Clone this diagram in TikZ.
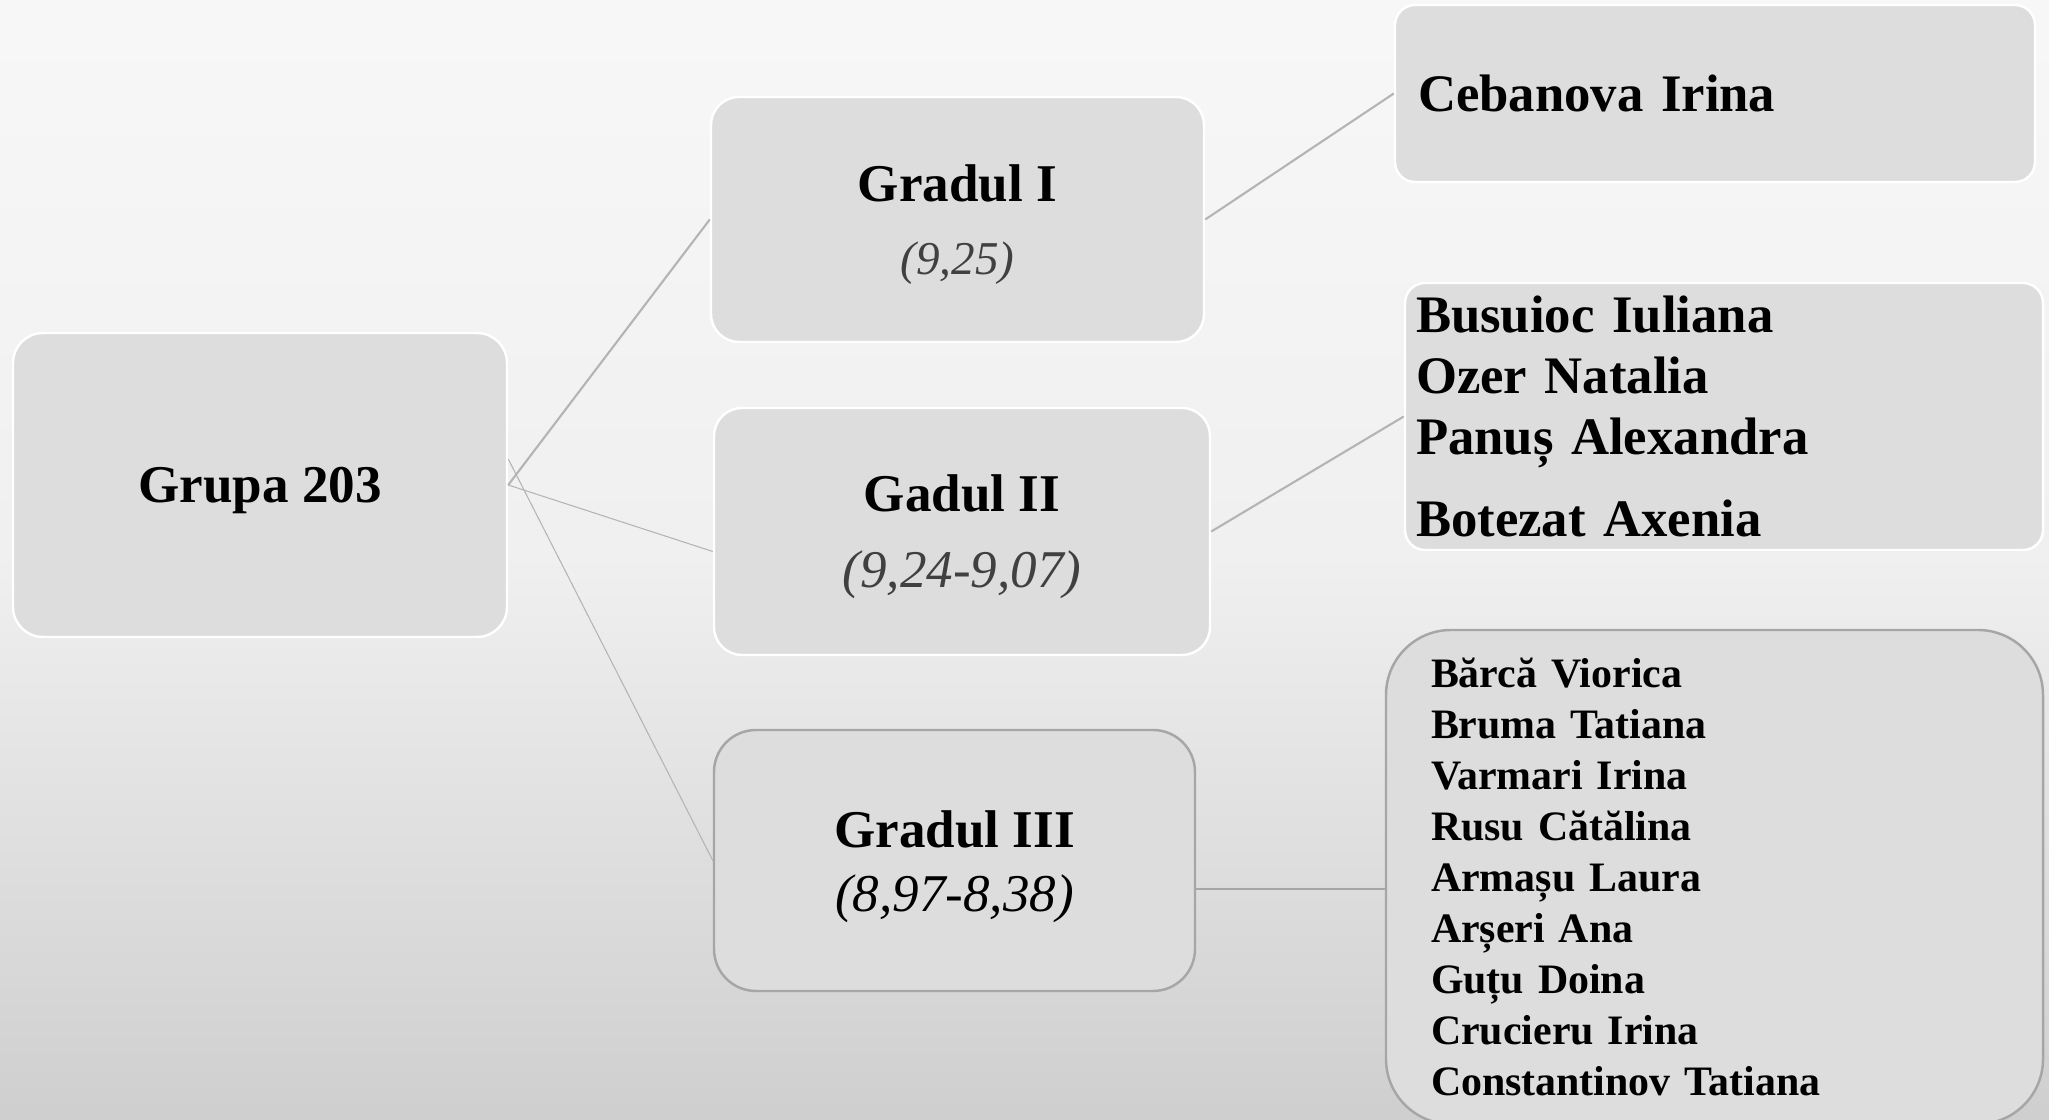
\documentclass[tikz,border=0pt]{standalone}
\usepackage{fontspec}
\setmainfont{Liberation Serif}
\definecolor{boxfill}{HTML}{DDDDDD}
\definecolor{linkgray}{HTML}{B4B4B4}
\definecolor{rimgray}{HTML}{A6A6A6}
\definecolor{notegray}{HTML}{404040}

\begin{document}
\begin{tikzpicture}[
        box/.style={draw=white, line width=0.7pt, fill=boxfill, rounded corners=0.28cm, inner sep=0pt, align=center},
        big/.style={font=\fontsize{15.1}{18.2}\selectfont\bfseries},
        list/.style={box, align=left, rounded corners=0.2cm, font=\fontsize{15}{17.36}\selectfont\bfseries},
        link/.style={draw=linkgray, line width=0.3pt},
        boldlink/.style={draw=linkgray, line width=0.6pt}
    ]
        \useasboundingbox (0, 0) rectangle (20.49, 11.2);
        \shade[top color=white!97!black, bottom color=white!81!black, middle color=white!94!black] (0, 0) rectangle (20.49, 11.2);
        % group and grades
        \node[box, big, text depth=0pt, rounded corners=0.3cm, minimum width=4.94cm, minimum height=3.04cm] (grupa) at (2.60, 6.35) {Grupa 203};
        \node[box, big, minimum width=4.93cm, minimum height=2.45cm] (gradI) at (9.575, 9.005) {\rule{0pt}{13.2pt}Gradul I\\[2.6pt] {\fontsize{13.4}{16}\selectfont\mdseries\itshape\color{notegray}(9,25)}};
        \node[box, big, minimum width=4.96cm, minimum height=2.47cm] (gradII) at (9.62, 5.885) {\rule{0pt}{13.6pt}Gadul II\\[3.4pt] {\mdseries\itshape\color{notegray}(9,24-9,07)}};
        \node[box, big, draw=rimgray, rounded corners=0.42cm, minimum width=4.81cm, minimum height=2.61cm] (gradIII) at (9.545, 2.595) {\rule{0pt}{14pt}Gradul III\\ {\mdseries\itshape(8,97-8,38)}};
        % students
        \node[list, minimum width=6.40cm, minimum height=1.77cm, text width=5.94cm] (ceban) at (17.15, 10.265) {Cebanova Irina};
        \node[list, minimum width=6.38cm, minimum height=2.67cm, text width=6.16cm] (busuioc) at (17.24, 7.035) {Busuioc Iuliana\\ Ozer Natalia\\ Panuș Alexandra\\[6pt] Botezat Axenia};
        \node[list, draw=rimgray, rounded corners=0.65cm, font=\fontsize{11.92}{14.48}\selectfont\bfseries, minimum width=6.57cm, minimum height=4.94cm, text width=5.67cm] (barca) at (17.145, 2.43) {Bărcă Viorica\\ Bruma Tatiana\\ Varmari Irina\\ Rusu Cătălina\\ Armașu Laura\\ Arșeri Ana\\ Guțu Doina\\ Crucieru Irina\\ Constantinov Tatiana};
        % links
        \coordinate (barcain) at ([yshift=-0.12cm]barca.west);
        \draw[boldlink] (grupa.east) -- (gradI.west);
        \draw[link] (grupa.east) -- ([yshift=-0.2cm]gradII.west);
        \draw[link] ([yshift=0.26cm]grupa.east) -- (gradIII.west);
        \draw[boldlink] (gradI.east) -- (ceban.west);
        \draw[boldlink] (gradII.east) -- (busuioc.west);
        \draw[link, draw=rimgray] (gradIII.east |- barcain) -- (barcain);
    \end{tikzpicture}
\end{document}
